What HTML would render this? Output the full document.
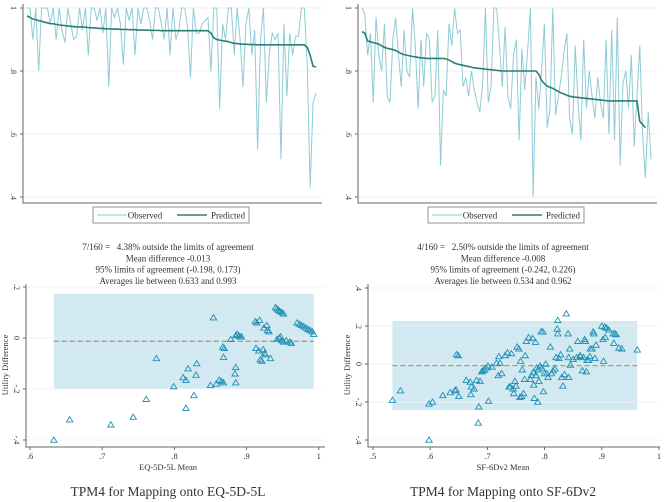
<!DOCTYPE html>
<html><head><meta charset="utf-8"><style>
html,body{margin:0;padding:0;background:#fff;}
svg{display:block;font-family:"Liberation Serif",serif;}
text{white-space:pre;}
</style></head><body>
<svg id="s" width="669" height="502" viewBox="0 0 669 502"></svg>
<script>
const obsL=[1,1,.9,1,.8,1,1,1,.95,1,.9,1,.93,.89,1,.95,.9,.91,1,.93,1,.85,1,1,.96,1,.92,1,.75,1,.97,1,.95,.82,1,.96,1,.85,1,.95,1,1,.96,.9,1,1,.95,.9,1,.85,1,.9,.93,1,1,.94,.78,1,.92,.92,.95,.96,.97,.8,1,1,.68,.95,.9,1,1,.85,1,.9,.75,.95,1,.85,.93,.55,.9,1,.7,.85,.92,.9,.92,.52,.95,.72,.92,.85,.91,.91,1,1,.82,.43,.7,.73];
const predL=[.975,.97,.965,.963,.96,.958,.955,.953,.95,.95,.948,.946,.945,.944,.943,.942,.941,.94,.94,.94,.939,.938,.937,.937,.936,.935,.935,.934,.934,.933,.933,.933,.932,.932,.932,.931,.931,.931,.93,.93,.93,.93,.929,.929,.929,.929,.928,.928,.928,.928,.928,.928,.928,.928,.928,.928,.928,.928,.928,.928,.928,.928,.928,.92,.905,.9,.898,.896,.895,.893,.89,.888,.887,.886,.885,.885,.884,.884,.884,.883,.883,.883,.883,.883,.883,.883,.883,.883,.883,.883,.883,.883,.883,.883,.883,.883,.875,.85,.815,.813];
const obsR=[1,.98,.85,.92,.7,.97,.85,.8,.95,.72,.7,.9,.97,.85,.75,.93,.8,.78,1,.88,.68,.9,.75,.92,.9,.7,.72,.93,.5,.74,.72,.95,.88,1,.92,.93,.75,.78,.72,.8,.74,.7,.67,.76,1,.7,.75,1,1,.88,.75,.94,.72,.68,.85,.9,.58,.87,.74,.86,1,.4,.78,.68,.8,.95,.62,.68,1,.66,.72,.78,.86,.92,.65,.6,.88,.7,.58,.9,.68,.8,.72,.65,.78,.7,.65,.9,.6,.93,.58,.97,.5,.76,.8,.68,.85,.56,.72,.88,.6,.46,.67,.52];
const predR=[.925,.92,.895,.893,.89,.888,.885,.88,.875,.872,.87,.868,.865,.86,.855,.852,.85,.848,.846,.845,.843,.842,.841,.84,.84,.84,.84,.84,.84,.84,.838,.835,.83,.825,.822,.82,.818,.816,.814,.812,.81,.809,.808,.807,.806,.805,.804,.803,.802,.801,.8,.8,.8,.8,.8,.8,.8,.8,.8,.8,.8,.8,.8,.79,.77,.76,.752,.748,.745,.74,.735,.73,.727,.723,.72,.718,.717,.716,.715,.714,.713,.712,.711,.71,.709,.708,.707,.706,.705,.705,.705,.705,.705,.705,.705,.705,.705,.705,.705,.64,.63,.62];
const baL=[[.633,-.40],[.655,-.32],[.712,-.34],[.743,-.31],[.761,-.24],[.775,-.08],[.799,-.19],[.812,-.155],[.816,-.165],[.816,-.275],[.819,-.12],[.827,-.225],[.830,-.145],[.831,-.10],[.850,-.185],[.854,.08],[.858,-.18],[.862,-.165],[.865,-.17],[.868,-.175],[.867,-.035],[.869,-.04],[.868,-.075],[.878,-.005],[.884,-.14],[.885,-.115],[.885,-.175],[.885,.01],[.887,.015],[.889,.01],[.891,.005],[.893,.005],[.912,.065],[.914,.06],[.913,-.04],[.918,.07],[.917,-.05],[.919,-.085],[.921,-.09],[.923,-.045],[.924,.04],[.925,-.06],[.926,-.065],[.928,.05],[.929,.03],[.931,.025],[.933,-.08],[.940,.12],[.942,.115],[.944,.11],[.946,.105],[.949,.10],[.951,.095],[.942,-.005],[.945,0],[.947,.005],[.949,-.01],[.951,-.015],[.955,-.01],[.960,-.015],[.962,-.02],[.970,.06],[.973,.055],[.976,.05],[.979,.045],[.982,.04],[.985,.035],[.988,.03],[.991,.025],[.993,.015]];
const baR=[[.534,-.19],[.548,-.14],[.598,-.21],[.604,-.20],[.598,-.40],[.622,-.165],[.635,-.15],[.643,-.14],[.645,-.135],[.646,.05],[.649,.045],[.65,-.17],[.663,-.085],[.67,-.095],[.671,-.16],[.672,-.12],[.677,-.13],[.681,-.085],[.685,-.225],[.684,-.31],[.687,-.09],[.69,-.04],[.692,-.035],[.695,-.03],[.698,-.02],[.701,-.01],[.702,-.195],[.708,-.015],[.716,.005],[.719,-.06],[.722,.005],[.725,-.05],[.72,.04],[.731,.045],[.735,.06],[.738,-.12],[.74,-.12],[.742,.055],[.745,-.13],[.746,-.155],[.748,-.09],[.75,-.115],[.752,.09],[.755,.08],[.757,-.175],[.758,.015],[.76,-.17],[.761,-.03],[.763,-.155],[.765,-.08],[.766,.045],[.768,.12],[.772,.14],[.775,-.08],[.777,-.06],[.779,.135],[.78,-.045],[.781,-.11],[.782,-.18],[.784,.115],[.785,-.06],[.786,-.02],[.788,-.2],[.789,-.03],[.79,-.09],[.792,-.01],[.794,.17],[.795,-.02],[.797,.17],[.798,-.145],[.8,-.05],[.802,0],[.804,-.05],[.806,-.07],[.81,.09],[.812,-.05],[.815,-.035],[.818,-.025],[.82,.035],[.822,.185],[.823,.16],[.823,.23],[.825,.03],[.828,.05],[.83,-.07],[.832,-.115],[.835,-.055],[.838,.265],[.841,.16],[.842,.035],[.842,-.07],[.844,.08],[.845,-.005],[.85,.025],[.856,.035],[.858,.12],[.862,.045],[.863,.04],[.866,-.035],[.868,.035],[.87,.13],[.871,.12],[.873,-.04],[.874,.02],[.877,.02],[.879,.04],[.88,.08],[.883,.08],[.885,.17],[.886,.16],[.888,.03],[.89,.1],[.9,.2],[.902,.13],[.903,.015],[.905,.195],[.906,.14],[.908,.19],[.912,.18],[.92,.16],[.921,.11],[.923,.16],[.925,.155],[.93,.085],[.935,.08],[.962,.075]];
const statsL=["7/160 =   4.38% outside the limits of agreement","Mean difference -0.013","95% limits of agreement (-0.198, 0.173)","Averages lie between 0.633 and 0.993"];
const statsR=["4/160 =   2.50% outside the limits of agreement","Mean difference -0.008","95% limits of agreement (-0.242, 0.226)","Averages lie between 0.534 and 0.962"];
const loaL=[-0.198,0.173,-0.013], rangeL=[.633,.993];
const loaR=[-0.242,0.226,-0.008], rangeR=[.534,.962];
const yTicksTop=[1,.8,.6,.4], yLabTop=["1",".8",".6",".4"];
const yTicksL=[.2,0,-.2,-.4], yLabL=[".2","0","-.2","-.4"];
const yTicksR=[.4,.2,0,-.2,-.4], yLabR=[".4",".2","0","-.2","-.4"];
const xTicks=[.5,.6,.7,.8,.9,1], xLab=[".5",".6",".7",".8",".9","1"];

const S=document.getElementById('s'),NS='http://www.w3.org/2000/svg';
function mk(t,a,p){const e=document.createElementNS(NS,t);for(const k in a)e.setAttribute(k,a[k]);(p||S).appendChild(e);return e;}
function txt(x,y,s,sz,anc,rot){const e=mk('text',{x:x,y:y,'font-size':sz,'text-anchor':anc||'middle',fill:'#333'});if(rot)e.setAttribute('transform','rotate('+rot+' '+x+' '+y+')');e.textContent=s;return e;}

function topPanel(ox,obs,pred,nm){
  const x0=ox+23,x1=ox+322,d0=ox+27,d1=ox+316;
  const Y=v=>8+(1-v)*315, X=i=>d0+i*(d1-d0)/(obs.length-1);
  yTicksTop.forEach((v,i)=>{
    const g=mk('line',{x1:x0,x2:x1,y1:Y(v),y2:Y(v),stroke:'#eef2f2','stroke-width':1});
    
    mk('line',{x1:x0-3,x2:x0,y1:Y(v),y2:Y(v),stroke:'#666'});
    const t=txt(x0-12,Y(v),yLabTop[i],8,'middle',90);
    
  });
  mk('path',{d:`M${x0} 4V${203}H${x1}`,stroke:'#666',fill:'none','stroke-width':1});
  const po=mk('polyline',{points:obs.map((v,i)=>X(i)+','+Y(v)).join(' '),fill:'none',stroke:'#8fcbd6','stroke-width':1});
  
  const pp=mk('polyline',{points:pred.map((v,i)=>X(i)+','+Y(v)).join(' '),fill:'none',stroke:'#2e7d75','stroke-width':1.6});
  
  const lg=mk('rect',{x:ox+93,y:207,width:156,height:16,fill:'#fff',stroke:'#777','stroke-width':.8});
  
  mk('line',{x1:ox+97,x2:ox+127,y1:215,y2:215,stroke:'#8fcbd6','stroke-width':1});
  txt(ox+145,218.5,'Observed',9);
  mk('line',{x1:ox+177,x2:ox+207,y1:215,y2:215,stroke:'#2e7d75','stroke-width':1.6});
  txt(ox+228,218.5,'Predicted',9);
}
topPanel(0,obsL,predL,'eq5d-top');
topPanel(335,obsR,predR,'sf6d-top');

function baPanel(o){
  const X=v=>o.xa+(v-o.xmin)*o.xs, Y=v=>o.y0-v*o.ys;
  o.stats.forEach((s,i)=>{const t=txt(o.cx,250+i*11.3,s,9);});
  const r=mk('rect',{x:X(o.range[0]),y:Y(o.loa[1]),width:X(o.range[1])-X(o.range[0]),height:Y(o.loa[0])-Y(o.loa[1]),fill:'#d2e9f2'});
  
  o.yt.forEach((v,i)=>{
    mk('line',{x1:o.ax,x2:o.xend,y1:Y(v),y2:Y(v),stroke:'#eef2f2','stroke-width':1,'stroke-opacity':.8});
    mk('line',{x1:o.ax-3,x2:o.ax,y1:Y(v),y2:Y(v),stroke:'#666'});
    const t=txt(o.ax-12,Y(v),o.yl[i],8,'middle',90);
    
  });
  const ml=mk('line',{x1:X(o.range[0]),x2:X(o.range[1]),y1:Y(o.loa[2]),y2:Y(o.loa[2]),stroke:'#98a583','stroke-width':1.4,'stroke-dasharray':'5,3'});
  
  mk('path',{d:`M${o.ax} ${o.ytop}V447H${o.xend}`,stroke:'#666',fill:'none'});
  xTicks.forEach((v,i)=>{ if(v<o.xmin-1e-9)return;
    mk('line',{x1:X(v),x2:X(v),y1:447,y2:450,stroke:'#666'});
    const t=txt(X(v),459,xLab[i],8.5);
  });
  o.pts.forEach(p=>{
    const x=X(p[0]),y=Y(p[1]);
    const tr=mk('path',{d:`M${x} ${y-3}L${x+3.2} ${y+2.3}L${x-3.2} ${y+2.3}Z`,fill:'none',stroke:'#1f90b3','stroke-width':0.9});
    
  });
  const xt=txt(o.cx,470,o.xtitle,8.5);
  const yt=txt(o.ax-18,o.ymid,'Utility Difference',8.5,'middle',-90);
  const tt=txt(o.cx,496,o.title,13.5);
}
baPanel({nm:'eq5d-ba',xa:30,xmin:.6,xs:722,y0:338,ys:255,ax:26,xend:325,ytop:284,ymid:365,cx:168,
  stats:statsL,loa:loaL,range:rangeL,yt:yTicksL,yl:yLabL,pts:baL,xtitle:'EQ-5D-5L Mean',title:'TPM4 for Mapping onto EQ-5D-5L'});
baPanel({nm:'sf6d-ba',xa:373,xmin:.5,xs:572,y0:364,ys:190,ax:368,xend:660,ytop:284,ymid:365,cx:503,
  stats:statsR,loa:loaR,range:rangeR,yt:yTicksR,yl:yLabR,pts:baR,xtitle:'SF-6Dv2 Mean',title:'TPM4 for Mapping onto SF-6Dv2'});
</script>
</body></html>
